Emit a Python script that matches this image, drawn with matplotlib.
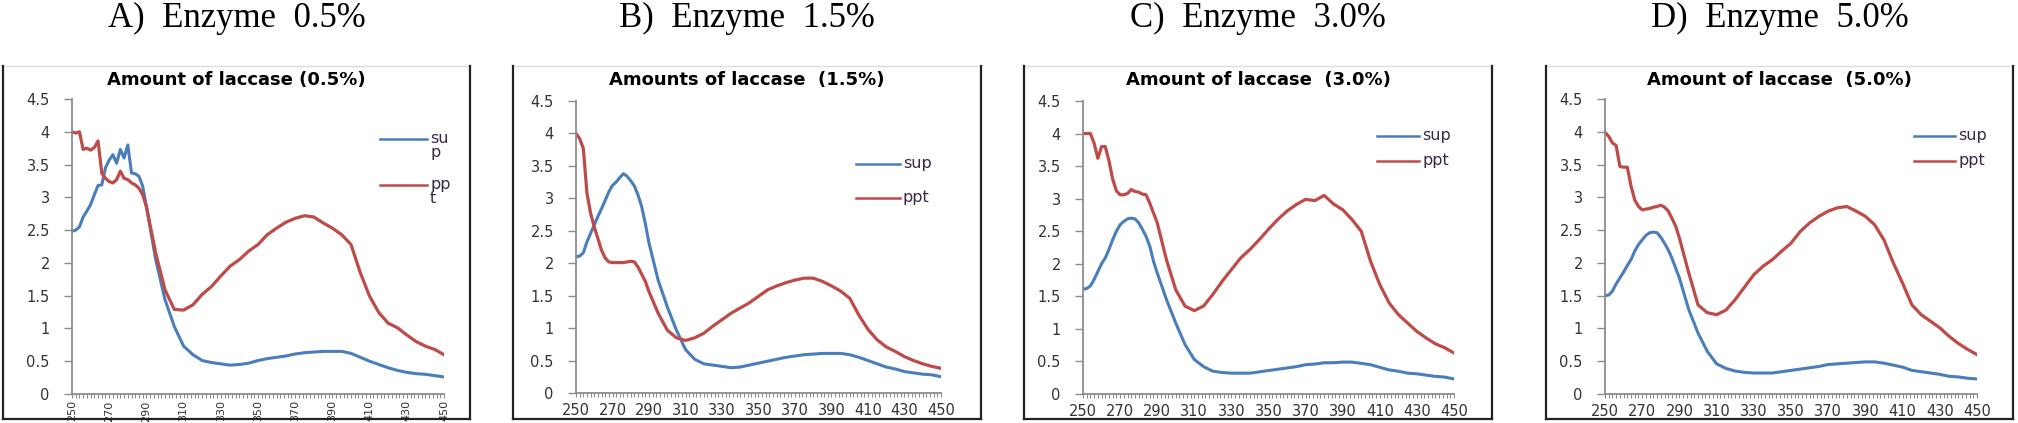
from matplotlib import pyplot as plt
from matplotlib.lines import Line2D
from matplotlib.ticker import MultipleLocator, FormatStrFormatter

# wavelength (nm): fine steps over the noisy start, 5 nm afterwards
wl = list(range(250, 291, 2)) + list(range(295, 451, 5))

sup_05 = [2.48, 2.50, 2.55, 2.70, 2.79, 2.89, 3.04, 3.18, 3.19, 3.45, 3.57,
          3.65, 3.52, 3.73, 3.60, 3.80, 3.37, 3.36, 3.32, 3.17, 2.86,
          2.05, 1.44, 1.03, 0.73, 0.60, 0.51, 0.48, 0.46, 0.44, 0.45, 0.47,
          0.51, 0.54, 0.56, 0.58, 0.61, 0.63, 0.64, 0.65, 0.65, 0.65, 0.62,
          0.56, 0.50, 0.45, 0.40, 0.36, 0.33, 0.31, 0.30, 0.28, 0.26]
ppt_05 = [4.00, 3.98, 4.00, 3.73, 3.75, 3.72, 3.76, 3.86, 3.37, 3.29, 3.24,
          3.22, 3.27, 3.40, 3.29, 3.27, 3.22, 3.19, 3.14, 3.04, 2.86,
          2.15, 1.59, 1.29, 1.28, 1.36, 1.52, 1.64, 1.80, 1.95, 2.05, 2.18,
          2.28, 2.43, 2.53, 2.62, 2.68, 2.72, 2.70, 2.61, 2.53, 2.43, 2.28,
          1.85, 1.49, 1.24, 1.08, 1.01, 0.90, 0.80, 0.73, 0.68, 0.60]

sup_15 = [2.10, 2.11, 2.16, 2.33, 2.46, 2.59, 2.72, 2.84, 2.97, 3.10, 3.20,
          3.25, 3.32, 3.38, 3.34, 3.27, 3.19, 3.05, 2.87, 2.61, 2.31,
          1.74, 1.33, 0.97, 0.67, 0.52, 0.45, 0.43, 0.41, 0.39, 0.40, 0.43,
          0.46, 0.49, 0.52, 0.55, 0.57, 0.59, 0.60, 0.61, 0.61, 0.61, 0.59,
          0.55, 0.50, 0.45, 0.40, 0.37, 0.33, 0.31, 0.29, 0.28, 0.25]
ppt_15 = [4.00, 3.92, 3.77, 3.08, 2.77, 2.56, 2.38, 2.20, 2.08, 2.02, 2.01,
          2.01, 2.01, 2.01, 2.02, 2.03, 2.02, 1.94, 1.83, 1.72, 1.56,
          1.23, 0.97, 0.85, 0.81, 0.85, 0.92, 1.03, 1.13, 1.23, 1.31, 1.39,
          1.49, 1.59, 1.65, 1.70, 1.74, 1.77, 1.77, 1.72, 1.65, 1.57, 1.46,
          1.20, 0.98, 0.82, 0.71, 0.64, 0.56, 0.50, 0.45, 0.41, 0.38]

sup_30 = [1.61, 1.62, 1.66, 1.76, 1.88, 2.00, 2.09, 2.22, 2.37, 2.50, 2.60,
          2.65, 2.69, 2.70, 2.69, 2.63, 2.53, 2.42, 2.27, 2.04, 1.86,
          1.45, 1.09, 0.76, 0.53, 0.42, 0.35, 0.33, 0.32, 0.32, 0.32, 0.34,
          0.36, 0.38, 0.40, 0.42, 0.45, 0.46, 0.48, 0.48, 0.49, 0.49, 0.47,
          0.45, 0.41, 0.37, 0.35, 0.32, 0.31, 0.29, 0.27, 0.26, 0.23]
ppt_30 = [4.00, 4.00, 4.00, 3.85, 3.62, 3.80, 3.80, 3.58, 3.30, 3.12, 3.06,
          3.06, 3.08, 3.14, 3.11, 3.10, 3.07, 3.06, 2.93, 2.78, 2.63,
          2.06, 1.60, 1.35, 1.28, 1.35, 1.53, 1.73, 1.91, 2.09, 2.22, 2.37,
          2.53, 2.68, 2.81, 2.91, 2.99, 2.97, 3.05, 2.92, 2.83, 2.68, 2.50,
          2.04, 1.68, 1.40, 1.22, 1.09, 0.96, 0.86, 0.77, 0.71, 0.63]

sup_50 = [1.50, 1.51, 1.57, 1.68, 1.77, 1.86, 1.96, 2.05, 2.18, 2.28, 2.35,
          2.42, 2.46, 2.47, 2.46, 2.39, 2.30, 2.20, 2.07, 1.92, 1.77,
          1.29, 0.93, 0.65, 0.46, 0.39, 0.35, 0.33, 0.32, 0.32, 0.32, 0.34,
          0.36, 0.38, 0.40, 0.42, 0.45, 0.46, 0.47, 0.48, 0.49, 0.49, 0.47,
          0.44, 0.41, 0.36, 0.34, 0.32, 0.30, 0.27, 0.26, 0.24, 0.23]
ppt_50 = [3.99, 3.93, 3.83, 3.79, 3.47, 3.46, 3.46, 3.17, 2.96, 2.86, 2.81,
          2.82, 2.83, 2.85, 2.86, 2.88, 2.85, 2.79, 2.68, 2.56, 2.38,
          1.85, 1.36, 1.24, 1.21, 1.28, 1.44, 1.63, 1.82, 1.95, 2.05, 2.18,
          2.30, 2.48, 2.61, 2.71, 2.79, 2.84, 2.86, 2.79, 2.71, 2.58, 2.35,
          2.00, 1.69, 1.36, 1.21, 1.11, 1.01, 0.88, 0.77, 0.68, 0.60]

headings = ['A)  Enzyme  0.5%', 'B)  Enzyme  1.5%', 'C)  Enzyme  3.0%', 'D)  Enzyme  5.0%']
titles = ['Amount of laccase (0.5%)', 'Amounts of laccase  (1.5%)',
          'Amount of laccase  (3.0%)', 'Amount of laccase  (5.0%)']
sup_labels = ['su\np', 'sup', 'sup', 'sup']
ppt_labels = ['pp\nt', 'ppt', 'ppt', 'ppt']
series = [(sup_05, ppt_05), (sup_15, ppt_15), (sup_30, ppt_30), (sup_50, ppt_50)]

W, H = 2018, 423
BLUE = '#4a7ebb'
RED = '#be4b48'
GREY = '#8c8c8c'

# layout in pixels: panel box, plot area, legend (x0, x1, y_sup, y_ppt)
boxes = [(3, 470), (513, 981), (1024, 1492), (1546, 2013)]
areas = [(72, 444, 99, 394), (576, 941, 101, 393), (1083, 1454, 101, 394), (1605, 1977, 99, 394)]
legends = [(380, 427, 139, 185), (856, 900, 164, 198), (1377, 1419, 136, 161), (1914, 1955, 136, 161)]


def fx(px):
    return px / W


def fy(py):
    return 1 - py / H


def draw_box(fig, x0, x1, top=66, bottom=419):
    fig.add_artist(Line2D([fx(x0), fx(x1)], [fy(top), fy(top)], color='#dddddd', lw=1))
    for xs, ys in (([x0, x0], [top, bottom]), ([x1, x1], [top, bottom]), ([x0, x1], [bottom, bottom])):
        fig.add_artist(Line2D([fx(v) for v in xs], [fy(v) for v in ys], color='#222222', lw=1.6))


def draw_legend(fig, leg, sup_label, ppt_label):
    x0, x1, ys, yp = leg
    for y, c, lab in ((ys, BLUE, sup_label), (yp, RED, ppt_label)):
        fig.add_artist(Line2D([fx(x0), fx(x1)], [fy(y), fy(y)], color=c, lw=1.8))
        fig.text(fx(x1 + 3), fy(y - 8), lab, ha='left', va='top', fontsize=11.5,
                 color='#3a2a4a', linespacing=0.95)


def plot_panel(fig, i):
    l, r, t, b = areas[i]
    ax = fig.add_axes([fx(l), fy(b), fx(r - l), (b - t) / H])
    sup, ppt = series[i]
    ax.plot(wl, sup, color=BLUE, lw=2.2)
    ax.plot(wl, ppt, color=RED, lw=2.3)
    ax.set_xlim(250, 450)
    ax.set_ylim(0, 4.5)
    for s in ('top', 'right'):
        ax.spines[s].set_visible(False)
    for s in ('left', 'bottom'):
        ax.spines[s].set_color(GREY)
        ax.spines[s].set_linewidth(1.3)
    ax.yaxis.set_major_locator(MultipleLocator(0.5))
    ax.yaxis.set_major_formatter(FormatStrFormatter('%g'))
    ax.xaxis.set_major_locator(MultipleLocator(20, offset=10))
    ax.xaxis.set_minor_locator(MultipleLocator(2))
    ax.tick_params(axis='y', length=6, width=1, color=GREY, pad=10, labelsize=10.5, labelcolor='#333333')
    ax.tick_params(axis='x', which='both', length=3, width=0.8, color=GREY, labelcolor='#333333')
    if i == 0:
        # the first chart has its category labels turned upright
        ax.tick_params(axis='x', labelsize=8, labelrotation=90, pad=1.5)
    else:
        ax.tick_params(axis='x', labelsize=10.5, pad=4)
    ax.patch.set_alpha(0)

    cx = (boxes[i][0] + boxes[i][1]) / 2
    fig.text(fx(cx), fy(80), titles[i], ha='center', va='center', fontsize=13, fontweight='bold')
    fig.text(fx(cx), fy(27), headings[i], ha='center', va='baseline', fontsize=25,
             family='Liberation Serif')
    draw_box(fig, *boxes[i])
    draw_legend(fig, legends[i], sup_labels[i], ppt_labels[i])


def run(img='out.png'):
    fig = plt.figure(figsize=(W / 100, H / 100), dpi=100)
    for i in range(4):
        plot_panel(fig, i)
    fig.savefig(img, dpi=100)


if __name__ == '__main__':
    run()
